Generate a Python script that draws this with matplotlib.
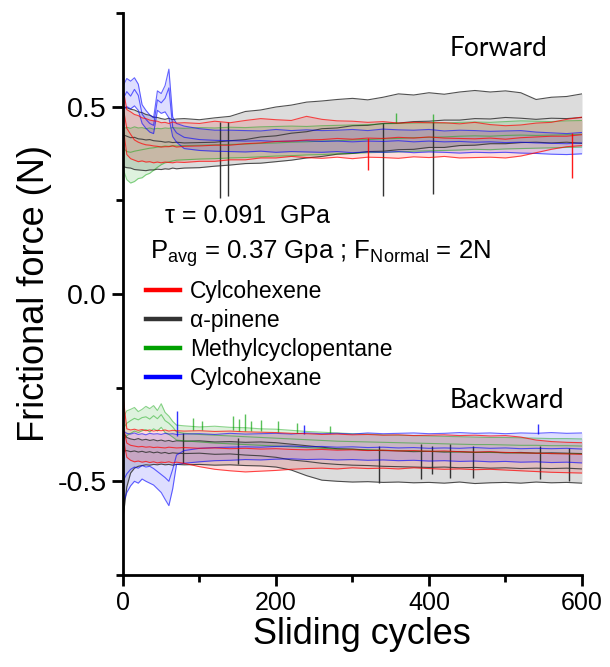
import numpy as np
import matplotlib
matplotlib.use('Agg')
import matplotlib.pyplot as plt
from matplotlib.ticker import MultipleLocator

plt.rcParams['font.family'] = ['Liberation Sans', 'DejaVu Sans']

cycles = [0, 5, 10, 15, 20, 25, 30, 35, 40, 45, 50, 55, 60, 65, 70,
          80, 100, 120, 140, 160, 180, 200, 220, 240, 260, 280, 300, 320, 340,
          360, 380, 400, 420, 440, 460, 480, 500, 520, 540, 560, 580, 600]

# ---- forward ----
fwd_pinene_up = [0.500, 0.497, 0.493, 0.491, 0.486, 0.484, 0.479, 0.477, 0.472, 0.471, 0.468, 0.466, 0.469, 0.465, 0.467,
                 0.468, 0.465, 0.470, 0.474, 0.487, 0.491, 0.499, 0.504, 0.512, 0.515, 0.519, 0.522, 0.518, 0.525,
                 0.534, 0.531, 0.537, 0.533, 0.539, 0.543, 0.539, 0.542, 0.537, 0.519, 0.525, 0.527, 0.534]
fwd_pinene_mid = [0.425, 0.421, 0.417, 0.418, 0.414, 0.413, 0.411, 0.412, 0.409, 0.408, 0.407, 0.405, 0.406, 0.404, 0.405,
                  0.403, 0.404, 0.405, 0.409, 0.412, 0.419, 0.422, 0.429, 0.433, 0.441, 0.443, 0.449, 0.450, 0.455,
                  0.456, 0.460, 0.461, 0.464, 0.464, 0.468, 0.467, 0.471, 0.469, 0.466, 0.469, 0.468, 0.471]
fwd_pinene_lo = [0.340, 0.337, 0.336, 0.332, 0.331, 0.330, 0.329, 0.331, 0.331, 0.333, 0.332, 0.334, 0.333, 0.336, 0.334,
                 0.336, 0.337, 0.341, 0.344, 0.348, 0.349, 0.353, 0.357, 0.363, 0.367, 0.373, 0.375, 0.380, 0.381,
                 0.385, 0.386, 0.391, 0.391, 0.396, 0.397, 0.401, 0.401, 0.404, 0.405, 0.403, 0.405, 0.402]

fwd_hexene_up = [0.550, 0.492, 0.486, 0.479, 0.476, 0.470, 0.468, 0.464, 0.462, 0.461, 0.457, 0.458, 0.455, 0.459, 0.456,
                 0.457, 0.455, 0.461, 0.457, 0.463, 0.468, 0.465, 0.463, 0.474, 0.466, 0.462, 0.461, 0.458, 0.460,
                 0.456, 0.458, 0.457, 0.457, 0.454, 0.458, 0.452, 0.449, 0.451, 0.456, 0.458, 0.466, 0.472]
fwd_hexene_mid = [0.500, 0.442, 0.426, 0.411, 0.405, 0.401, 0.398, 0.397, 0.395, 0.394, 0.392, 0.393, 0.393, 0.395, 0.392,
                  0.394, 0.395, 0.397, 0.397, 0.401, 0.403, 0.407, 0.408, 0.411, 0.412, 0.415, 0.413, 0.416, 0.415,
                  0.418, 0.416, 0.419, 0.416, 0.415, 0.414, 0.416, 0.413, 0.417, 0.419, 0.421, 0.421, 0.425]
fwd_hexene_lo = [0.450, 0.372, 0.361, 0.357, 0.353, 0.355, 0.352, 0.353, 0.350, 0.352, 0.350, 0.352, 0.351, 0.350, 0.352,
                 0.351, 0.354, 0.354, 0.358, 0.358, 0.363, 0.363, 0.367, 0.364, 0.362, 0.365, 0.361, 0.365, 0.364,
                 0.362, 0.366, 0.364, 0.367, 0.363, 0.364, 0.365, 0.363, 0.368, 0.377, 0.386, 0.393, 0.396]

fwd_mcp_up = [0.440, 0.445, 0.442, 0.446, 0.443, 0.444, 0.441, 0.443, 0.440, 0.442, 0.441, 0.443, 0.442, 0.444, 0.443,
              0.442, 0.444, 0.443, 0.445, 0.444, 0.446, 0.447, 0.448, 0.447, 0.449, 0.450, 0.451, 0.452, 0.454,
              0.455, 0.456, 0.457, 0.456, 0.458, 0.459, 0.458, 0.460, 0.462, 0.461, 0.460, 0.462, 0.463]
fwd_mcp_mid = [0.390, 0.380, 0.378, 0.381, 0.383, 0.385, 0.387, 0.389, 0.390, 0.392, 0.393, 0.395, 0.394, 0.396, 0.395,
               0.396, 0.397, 0.398, 0.399, 0.400, 0.402, 0.403, 0.405, 0.406, 0.408, 0.409, 0.411, 0.412, 0.414,
               0.415, 0.417, 0.418, 0.419, 0.421, 0.422, 0.421, 0.423, 0.424, 0.423, 0.424, 0.425, 0.426]
fwd_mcp_lo = [0.335, 0.305, 0.296, 0.300, 0.308, 0.310, 0.318, 0.322, 0.330, 0.338, 0.345, 0.350, 0.352, 0.355, 0.357,
              0.358, 0.360, 0.361, 0.363, 0.364, 0.366, 0.368, 0.369, 0.371, 0.372, 0.374, 0.375, 0.377, 0.378,
              0.379, 0.381, 0.382, 0.383, 0.384, 0.386, 0.385, 0.387, 0.388, 0.389, 0.390, 0.391, 0.392]

fwd_hexane_up = [0.555, 0.575, 0.568, 0.577, 0.560, 0.505, 0.490, 0.478, 0.470, 0.542, 0.535, 0.556, 0.600, 0.472, 0.455,
                 0.448, 0.441, 0.437, 0.437, 0.436, 0.435, 0.439, 0.436, 0.438, 0.436, 0.437, 0.439, 0.436, 0.440,
                 0.438, 0.437, 0.439, 0.435, 0.437, 0.436, 0.434, 0.435, 0.436, 0.432, 0.430, 0.428, 0.431]
fwd_hexane_mid = [0.520, 0.540, 0.528, 0.546, 0.530, 0.480, 0.466, 0.455, 0.450, 0.518, 0.510, 0.522, 0.550, 0.445, 0.430,
                  0.418, 0.412, 0.410, 0.409, 0.408, 0.409, 0.407, 0.408, 0.409, 0.407, 0.408, 0.406, 0.408, 0.407,
                  0.409, 0.406, 0.408, 0.406, 0.407, 0.405, 0.406, 0.404, 0.405, 0.403, 0.402, 0.401, 0.403]
fwd_hexane_lo = [0.490, 0.500, 0.494, 0.502, 0.490, 0.455, 0.442, 0.432, 0.428, 0.490, 0.482, 0.486, 0.470, 0.420, 0.405,
                 0.388, 0.383, 0.381, 0.380, 0.379, 0.381, 0.378, 0.380, 0.379, 0.378, 0.380, 0.377, 0.379, 0.378,
                 0.380, 0.377, 0.379, 0.378, 0.376, 0.378, 0.377, 0.378, 0.376, 0.375, 0.373, 0.372, 0.374]

# ---- backward ----
bwd_pinene_up = [-0.370, -0.383, -0.387, -0.389, -0.386, -0.390, -0.388, -0.391, -0.389, -0.392, -0.390, -0.393, -0.391, -0.394, -0.392,
                 -0.393, -0.392, -0.395, -0.394, -0.396, -0.395, -0.397, -0.401, -0.405, -0.409, -0.413, -0.414, -0.417, -0.418,
                 -0.419, -0.421, -0.420, -0.422, -0.421, -0.423, -0.422, -0.424, -0.423, -0.425, -0.424, -0.425, -0.426]
bwd_pinene_mid = [-0.420, -0.418, -0.421, -0.419, -0.422, -0.420, -0.423, -0.421, -0.424, -0.422, -0.425, -0.423, -0.426, -0.424, -0.425,
                  -0.426, -0.425, -0.428, -0.427, -0.430, -0.432, -0.436, -0.443, -0.447, -0.452, -0.455, -0.457, -0.458, -0.460,
                  -0.461, -0.462, -0.463, -0.462, -0.464, -0.463, -0.465, -0.464, -0.466, -0.465, -0.466, -0.465, -0.467]
bwd_pinene_lo = [-0.600, -0.515, -0.478, -0.465, -0.460, -0.458, -0.456, -0.457, -0.455, -0.456, -0.454, -0.456, -0.455, -0.457, -0.455,
                 -0.456, -0.455, -0.457, -0.456, -0.458, -0.459, -0.462, -0.470, -0.485, -0.497, -0.500, -0.502, -0.501, -0.503,
                 -0.502, -0.504, -0.503, -0.505, -0.502, -0.506, -0.504, -0.503, -0.505, -0.502, -0.504, -0.503, -0.505]

bwd_hexene_up = [-0.270, -0.360, -0.363, -0.361, -0.364, -0.362, -0.365, -0.363, -0.366, -0.364, -0.365, -0.363, -0.366, -0.364, -0.365,
                 -0.366, -0.365, -0.367, -0.366, -0.368, -0.369, -0.370, -0.372, -0.373, -0.375, -0.374, -0.376, -0.375, -0.377,
                 -0.376, -0.378, -0.377, -0.376, -0.378, -0.377, -0.379, -0.378, -0.382, -0.390, -0.394, -0.396, -0.397]
bwd_hexene_mid = [-0.350, -0.398, -0.404, -0.406, -0.408, -0.407, -0.409, -0.408, -0.410, -0.409, -0.410, -0.411, -0.409, -0.410, -0.411,
                  -0.410, -0.412, -0.411, -0.413, -0.412, -0.414, -0.413, -0.415, -0.416, -0.415, -0.417, -0.416, -0.418, -0.417,
                  -0.419, -0.418, -0.420, -0.419, -0.421, -0.422, -0.421, -0.423, -0.424, -0.425, -0.426, -0.427, -0.428]
bwd_hexene_lo = [-0.380, -0.436, -0.444, -0.448, -0.446, -0.449, -0.447, -0.450, -0.448, -0.451, -0.449, -0.450, -0.448, -0.451, -0.449,
                 -0.452, -0.461, -0.468, -0.472, -0.475, -0.473, -0.471, -0.468, -0.466, -0.465, -0.467, -0.464, -0.466, -0.465,
                 -0.467, -0.464, -0.466, -0.468, -0.467, -0.469, -0.468, -0.470, -0.472, -0.474, -0.476, -0.477, -0.478]

bwd_mcp_up = [-0.330, -0.312, -0.308, -0.303, -0.314, -0.308, -0.300, -0.306, -0.298, -0.311, -0.293, -0.316, -0.326, -0.340, -0.350,
              -0.352, -0.355, -0.353, -0.356, -0.357, -0.360, -0.361, -0.364, -0.367, -0.369, -0.371, -0.373, -0.374, -0.376,
              -0.377, -0.378, -0.379, -0.380, -0.381, -0.382, -0.383, -0.383, -0.384, -0.385, -0.386, -0.386, -0.387]
bwd_mcp_mid = [-0.360, -0.345, -0.338, -0.332, -0.336, -0.330, -0.328, -0.334, -0.325, -0.333, -0.322, -0.338, -0.345, -0.355, -0.368,
               -0.372, -0.375, -0.377, -0.379, -0.381, -0.383, -0.385, -0.387, -0.389, -0.391, -0.393, -0.394, -0.395, -0.396,
               -0.397, -0.398, -0.399, -0.400, -0.401, -0.402, -0.402, -0.403, -0.404, -0.404, -0.405, -0.405, -0.406]
bwd_mcp_lo = [-0.390, -0.378, -0.372, -0.366, -0.370, -0.365, -0.362, -0.368, -0.360, -0.366, -0.356, -0.370, -0.375, -0.382, -0.390,
              -0.392, -0.395, -0.398, -0.400, -0.402, -0.404, -0.406, -0.408, -0.410, -0.412, -0.414, -0.415, -0.416, -0.417,
              -0.418, -0.419, -0.420, -0.421, -0.422, -0.423, -0.423, -0.424, -0.425, -0.425, -0.426, -0.426, -0.427]

bwd_hexane_up = [-0.365, -0.372, -0.374, -0.371, -0.375, -0.373, -0.376, -0.372, -0.374, -0.373, -0.375, -0.372, -0.374, -0.373, -0.375,
                 -0.374, -0.373, -0.375, -0.372, -0.374, -0.373, -0.372, -0.374, -0.371, -0.373, -0.372, -0.374, -0.371, -0.373,
                 -0.372, -0.371, -0.373, -0.372, -0.370, -0.372, -0.371, -0.373, -0.371, -0.372, -0.370, -0.372, -0.371]
bwd_hexane_mid = [-0.500, -0.480, -0.468, -0.462, -0.465, -0.458, -0.462, -0.460, -0.466, -0.474, -0.482, -0.490, -0.500, -0.468, -0.430,
                  -0.418, -0.412, -0.410, -0.409, -0.408, -0.409, -0.407, -0.406, -0.408, -0.407, -0.409, -0.408, -0.410, -0.409,
                  -0.411, -0.410, -0.412, -0.411, -0.412, -0.410, -0.412, -0.411, -0.413, -0.412, -0.413, -0.412, -0.414]
bwd_hexane_lo = [-0.560, -0.530, -0.512, -0.500, -0.505, -0.494, -0.500, -0.505, -0.510, -0.520, -0.530, -0.548, -0.565, -0.520, -0.455,
                 -0.452, -0.448, -0.445, -0.444, -0.442, -0.443, -0.441, -0.440, -0.442, -0.441, -0.443, -0.442, -0.444, -0.443,
                 -0.445, -0.444, -0.446, -0.445, -0.447, -0.446, -0.448, -0.447, -0.449, -0.448, -0.450, -0.449, -0.451]

# short single-cycle spikes (cycle, one end, other end)
spike_pinene_x = [127, 137, 340, 405, 78, 150, 335, 389, 404, 428, 458, 545, 583]
spike_pinene_a = [0.458, 0.460, 0.455, 0.460, -0.370, -0.385, -0.405, -0.400, -0.405, -0.400, -0.405, -0.405, -0.410]
spike_pinene_b = [0.257, 0.262, 0.262, 0.266, -0.450, -0.455, -0.505, -0.495, -0.480, -0.490, -0.490, -0.495, -0.500]
spike_hexene_x = [320, 587]
spike_hexene_a = [0.415, 0.430]
spike_hexene_b = [0.330, 0.310]
spike_mcp_x = [357, 405, 91, 103, 144, 152, 160, 167, 181, 203, 227, 271]
spike_mcp_a = [0.455, 0.457, -0.362, -0.363, -0.364, -0.365, -0.366, -0.366, -0.367, -0.368, -0.370, -0.372]
spike_mcp_b = [0.484, 0.481, -0.331, -0.340, -0.325, -0.335, -0.320, -0.338, -0.336, -0.340, -0.345, -0.353]
spike_hexane_x = [70, 236, 542]
spike_hexane_a = [-0.380, -0.375, -0.373]
spike_hexane_b = [-0.313, -0.350, -0.348]

names = ['Cylcohexene', 'α-pinene', 'Methylcyclopentane', 'Cylcohexane']
colors = {'Cylcohexene': '#ff0000', 'α-pinene': '#333333',
          'Methylcyclopentane': '#00a000', 'Cylcohexane': '#0000ff'}

bands = {
    'α-pinene': [(fwd_pinene_up, fwd_pinene_mid, fwd_pinene_lo), (bwd_pinene_up, bwd_pinene_mid, bwd_pinene_lo)],
    'Methylcyclopentane': [(fwd_mcp_up, fwd_mcp_mid, fwd_mcp_lo), (bwd_mcp_up, bwd_mcp_mid, bwd_mcp_lo)],
    'Cylcohexane': [(fwd_hexane_up, fwd_hexane_mid, fwd_hexane_lo), (bwd_hexane_up, bwd_hexane_mid, bwd_hexane_lo)],
    'Cylcohexene': [(fwd_hexene_up, fwd_hexene_mid, fwd_hexene_lo), (bwd_hexene_up, bwd_hexene_mid, bwd_hexene_lo)],
}
spikes = {
    'α-pinene': (spike_pinene_x, spike_pinene_a, spike_pinene_b),
    'Methylcyclopentane': (spike_mcp_x, spike_mcp_a, spike_mcp_b),
    'Cylcohexane': (spike_hexane_x, spike_hexane_a, spike_hexane_b),
    'Cylcohexene': (spike_hexene_x, spike_hexene_a, spike_hexene_b),
}

fig = plt.figure(figsize=(6.1, 6.67), dpi=100)
ax = fig.add_axes([0.2016, 0.138, 0.7525, 0.8426])

for name in ['α-pinene', 'Methylcyclopentane', 'Cylcohexane', 'Cylcohexene']:
    col = colors[name]
    fill_alpha = 0.17 if name == 'α-pinene' else 0.13
    line_alpha = {'α-pinene': 0.85, 'Methylcyclopentane': 0.45,
                  'Cylcohexane': 0.6, 'Cylcohexene': 0.7}[name]
    for up, mid, lo in bands[name]:
        ax.fill_between(cycles, lo, up, color=col, alpha=fill_alpha, lw=0)
        for ys in (up, mid, lo):
            ax.plot(cycles, ys, color=col, lw=0.8, alpha=line_alpha)
    sx, sa, sb = spikes[name]
    ax.vlines(sx, sa, sb, colors=col, lw=1.0, alpha=min(1, line_alpha + 0.2))

# legend handles only
handles = [ax.plot([], [], color=colors[n], lw=3.2)[0] for n in names]
ax.legend(handles, names, loc='upper left', bbox_to_anchor=(0.05, 0.525),
          frameon=False, fontsize=16.5, handlelength=1.5, handletextpad=0.42,
          labelspacing=0.27, borderpad=0, borderaxespad=0)

ax.text(427, 0.636, 'Forward', fontsize=19, family='Lato')
ax.text(427, -0.305, 'Backward', fontsize=19, family='Lato')
ax.text(55, 0.19, 'τ = 0.091  GPa', fontsize=18)
ax.text(35, 0.094, r'P$_{\mathregular{avg}}$ = 0.37 Gpa ; F$_{\mathregular{Normal}}$ = 2N', fontsize=18.5)

ax.set_xlim(0, 600)
ax.set_ylim(-0.75, 0.75)
ax.set_xticks([0, 200, 400, 600])
ax.set_yticks([-0.5, 0.0, 0.5])
ax.set_yticklabels(['-0.5', '0.0', '0.5'])
ax.xaxis.set_minor_locator(MultipleLocator(100))
ax.yaxis.set_minor_locator(MultipleLocator(0.25))
ax.tick_params(which='major', length=8, width=2, direction='out')
ax.tick_params(which='minor', length=5, width=2, direction='out')
ax.tick_params(axis='x', labelsize=18)
ax.tick_params(axis='y', labelsize=20.5)
for s in ['top', 'right']:
    ax.spines[s].set_visible(False)
for s in ['left', 'bottom']:
    ax.spines[s].set_linewidth(2)

ax.set_xlabel('Sliding cycles', fontsize=26)
ax.xaxis.set_label_coords(0.52, -0.075)
ax.set_ylabel('Frictional force (N)', fontsize=26, labelpad=4)

fig.savefig('out.png', dpi=100)
